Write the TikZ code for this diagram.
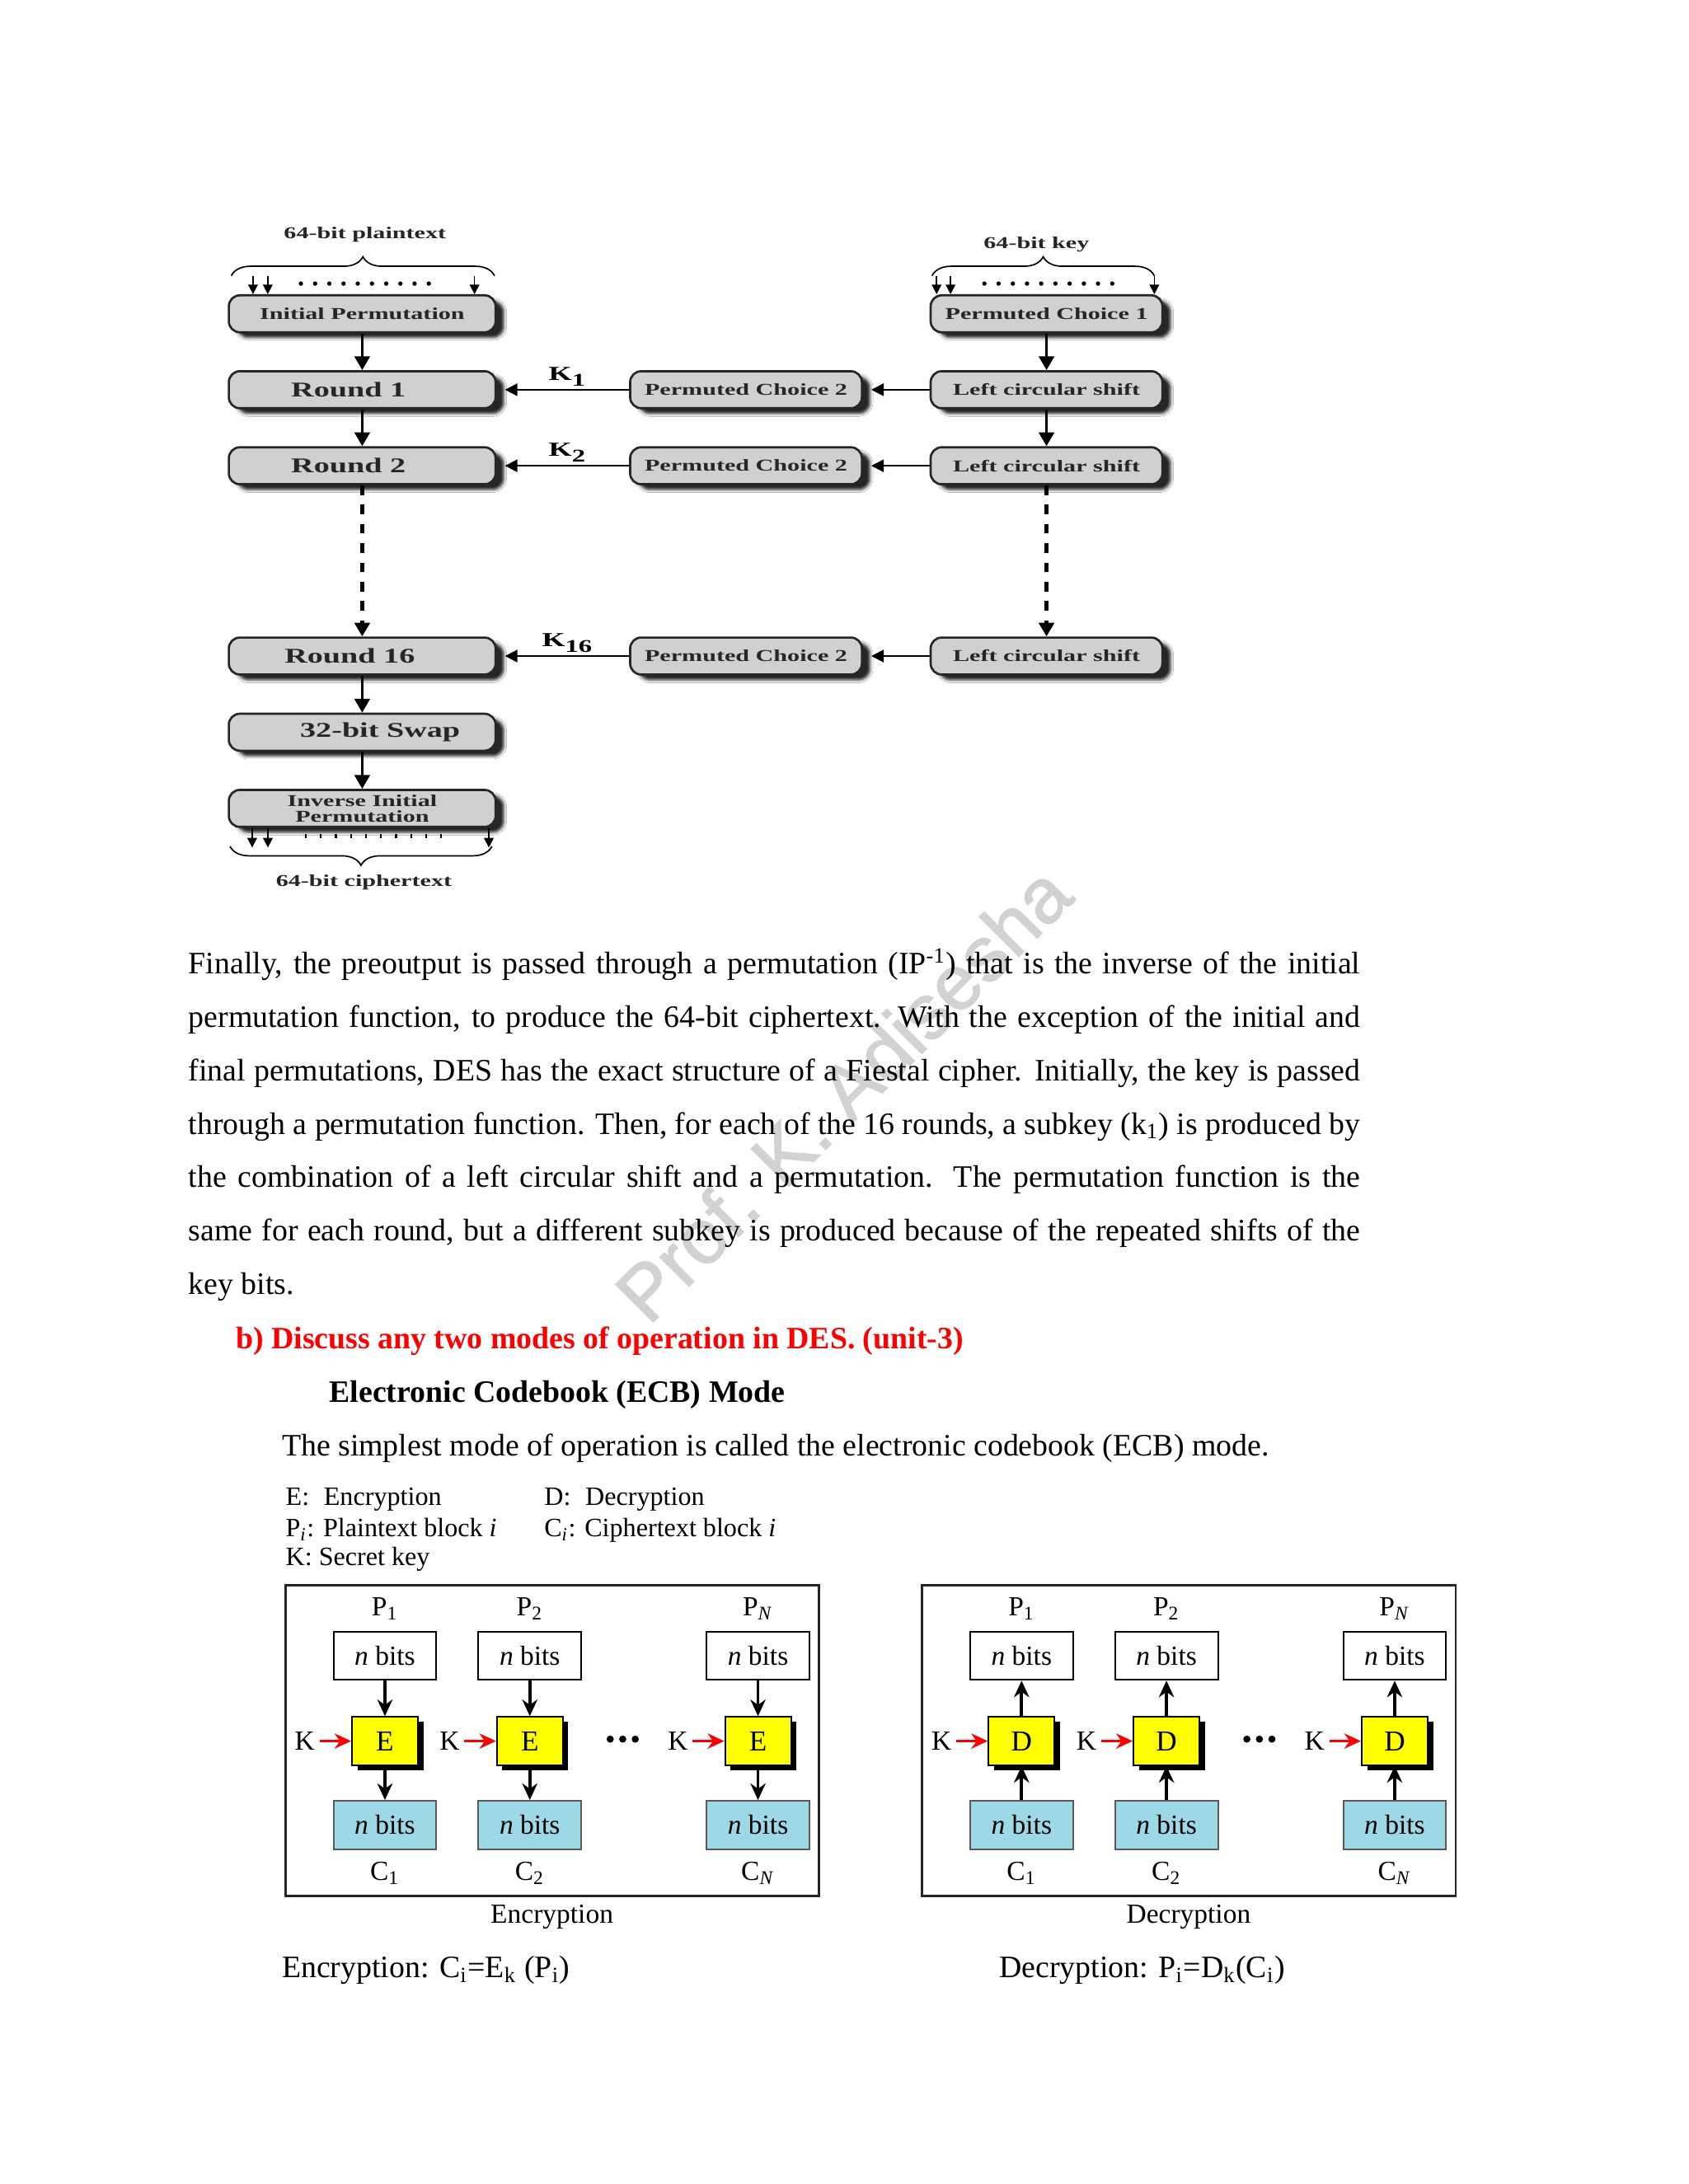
\documentclass[tikz,border=0pt]{standalone}
\usepackage{fontspec}
\setmainfont{Liberation Serif}
\newfontfamily\desfont[FakeStretch=1.5]{Liberation Serif}
\newfontfamily\markfont[FakeBold=1.6]{Liberation Sans}
\usetikzlibrary{arrows.meta,positioning,calc,shadows,shadows.blur,decorations.pathreplacing}
\definecolor{desgray}{HTML}{D0D0D0}
\definecolor{ecbyellow}{HTML}{FFFF00}
\definecolor{ecbblue}{HTML}{9DD8E6}
\definecolor{headred}{HTML}{FF0000}

\begin{document}
\begin{tikzpicture}[x=0.50495pt, y=-0.50495pt,
  desbox/.style={draw=black!85, line width=0.8pt, fill=desgray, rounded corners=4pt,
    minimum height=13.4pt, inner sep=0pt, text=black!85,
    font=\desfont\bfseries\fontsize{6}{5.8}\selectfont,
    blur shadow={shadow xshift=3pt, shadow yshift=-2pt, shadow blur radius=1pt, shadow opacity=85}},
  roundbox/.style={desbox, minimum width=96.7pt, font=\desfont\bfseries\fontsize{7.6}{8}\selectfont},
  stagebox/.style={desbox, minimum width=96.7pt},
  keybox/.style={desbox, minimum width=84pt},
  deslabel/.style={font=\desfont\bfseries\fontsize{6}{7}\selectfont, text=black!85, inner sep=0pt},
  klabel/.style={font=\desfont\bfseries\fontsize{7.2}{8}\selectfont, inner sep=1pt},
  flow/.style={-{Triangle[length=5pt,width=5.5pt]}, line width=1pt},
  skipflow/.style={flow, line width=1.3pt, dash pattern=on 3.5pt off 3.5pt},
  keyflow/.style={-{Triangle[length=4.5pt,width=4.5pt]}, line width=0.6pt},
  bitflow/.style={-{Triangle[length=3.5pt,width=3.5pt]}, line width=0.5pt},
  bitbrace/.style={decorate, decoration={brace, amplitude=6.9pt}, line width=0.5pt},
  plainbox/.style={draw=black, line width=0.6pt, fill=white, minimum width=37.3pt,
    minimum height=17.5pt, inner sep=0pt, font=\fontsize{10}{12}\selectfont},
  cipherbox/.style={plainbox, draw=black!65, fill=ecbblue},
  opbox/.style={draw=black, line width=0.6pt, fill=ecbyellow, minimum width=23.9pt,
    minimum height=17.5pt, inner sep=0pt, font=\fontsize{10.5}{12}\selectfont,
    drop shadow={shadow xshift=2pt, shadow yshift=-1.8pt, fill=black, opacity=1}},
  ecbtext/.style={font=\fontsize{10}{12}\selectfont, inner sep=1.5pt},
  ecbframe/.style={draw=black!85, line width=0.8pt},
  encarrow/.style={-{Stealth[length=6pt,width=5.5pt]}, line width=1.1pt},
  decarrow/.style={{Stealth[length=6pt,width=5.5pt]}-, line width=1.1pt},
  ktip/.style={-{Stealth[length=6pt,width=5.5pt]}, line width=1.1pt, headred},
  keytext/.style={anchor=base west, inner sep=0pt, font=\fontsize{9.6}{11}\selectfont},
  bodyline/.style={anchor=base west, inner sep=0pt, font=\fontsize{11.3}{13}\selectfont}]

\fill[white] (0,0) rectangle (1212,1568);
\useasboundingbox (0,0) rectangle (1212,1568);

% watermark
\node[font=\markfont\fontsize{28}{28}\selectfont, text=gray!35, rotate=45] (mark) at (605,785) {Prof. K. Adisesha};

% DES encryption column
\node[stagebox] (ip) at (260,225.3) {Initial Permutation};
\node[roundbox] (r1) at (260,279.8) {Round 1\hspace*{10pt}};
\node[roundbox] (r2) at (260,334.4) {Round 2\hspace*{10pt}};
\node[roundbox] (r16) at (260,471) {Round 16\hspace*{9pt}};
\node[roundbox] (swap) at (260,525.7) {\hspace*{13pt}32-bit Swap};
\node[stagebox, align=center] (iip) at (260,580.4) {Inverse Initial\\Permutation};

% key schedule
\node[keybox] (pc1) at (751.2,225.3) {Permuted Choice 1};
\node[keybox] (lcs1) at (751.2,279.8) {Left circular shift};
\node[keybox] (lcs2) at (751.2,334.4) {Left circular shift};
\node[keybox] (lcs16) at (751.2,471) {Left circular shift};
\node[keybox] (pcb1) at (535.5,279.8) {Permuted Choice 2};
\node[keybox] (pcb2) at (535.5,334.4) {Permuted Choice 2};
\node[keybox] (pcb16) at (535.5,471) {Permuted Choice 2};

\draw[flow] (ip) -- (r1);
\draw[flow] (r1) -- (r2);
\draw[skipflow] (r2) -- (r16);
\draw[flow] (r16) -- (swap);
\draw[flow] (swap) -- (iip);
\draw[flow] (pc1) -- (lcs1);
\draw[flow] (lcs1) -- (lcs2);
\draw[skipflow] (lcs2) -- (lcs16);

\foreach \n/\k in {1/1, 2/2, 16/16}{
  \draw[keyflow] (lcs\n.west) -- ([xshift=3pt]pcb\n.east);
  \draw[keyflow] (pcb\n.west) -- ([xshift=3pt]r\n.east)
    node[klabel, midway, above] {K\raisebox{-2.2pt}{\fontsize{6.5}{7}\selectfont\k}};
}

% 64-bit inputs and output
\node[deslabel] (ptxt) at (262,168.7) {64-bit plaintext};
\node[deslabel] (ktxt) at (744,175.6) {64-bit key};
\node[deslabel] (ctxt) at (261.2,633.8) {64-bit ciphertext};
\draw[bitbrace] (166,198) -- (355,198);
\draw[bitbrace] (669,198) -- (828.6,198);
\draw[bitbrace] (353.1,607.6) -- (165.1,607.6);
\foreach \x in {181.6,192.2,340.6}
  \draw[bitflow] (\x,198) -- (\x,0 |- ip.north);
\foreach \x in {672.3,682.3,828.6}
  \draw[bitflow] (\x,198) -- (\x,0 |- pc1.north);
\foreach \x in {181,192.3,350.9}
  \draw[bitflow] (\x,0 |- iip.south) -- (\x,608.5);
\foreach \i in {0,...,9}{
  \fill (216+\i*10.2,203.6) circle (0.8pt);
  \fill (706.6+\i*10.2,203.6) circle (0.8pt);
  \draw[line width=0.7pt] (219.5+\i*10.8,598.7) -- ++(0,3);
}

% text
\foreach \txt [count=\i from 0] in {
  {Finally, the preoutput is passed through a permutation (IP\textsuperscript{-1}) that is the inverse of the initial},
  {permutation function, to produce the 64-bit ciphertext. With the exception of the initial and},
  {final permutations, DES has the exact structure of a Fiestal cipher. Initially, the key is passed},
  {through a permutation function. Then, for each of the 16 rounds, a subkey (k\textsubscript{1}) is produced by},
  {the combination of a left circular shift and a permutation. The permutation function is the},
  {same for each round, but a different subkey is produced because of the repeated shifts of the}}
  \node[bodyline] (line\i) at (135,699.3+38.3*\i) {\makebox[424.7pt][s]{\txt}};
\node[bodyline] (line6) at (135,929.1) {key bits.};
\node[bodyline, font=\bfseries\fontsize{11.3}{13}\selectfont, text=headred] (ask) at (169,968.4)
  {b) Discuss any two modes of operation in DES. (unit-3)};
\node[bodyline, font=\bfseries\fontsize{11.3}{13}\selectfont] (ecbhead) at (236,1006.7)
  {Electronic Codebook (ECB) Mode};
\node[bodyline] (intro) at (202,1045)
  {The simplest mode of operation is called the electronic codebook (ECB) mode.};

% legend
\node[keytext] (legE) at (204.7,1080.8) {E:\hspace{0.55em}Encryption};
\node[keytext] (legD) at (390.3,1080.8) {D:\hspace{0.55em}Decryption};
\node[keytext] (legP) at (204.7,1103) {P\textsubscript{\textit{i}}: Plaintext block \textit{i}};
\node[keytext] (legC) at (390.3,1103) {C\textsubscript{\textit{i}}: Ciphertext block \textit{i}};
\node[keytext] (legK) at (204.7,1124) {K: Secret key};

% ECB panels
\foreach \pan/\dx/\opname/\panname in {enc/0/E/Encryption, dec/457/D/Decryption}{
  \draw[ecbframe] (205+\dx,1138) rectangle (588+\dx,1361);
  \foreach \col/\cx/\colsub in {1/276.3/1, 2/380.3/2, 3/544.1/\textit{N}}{
    \node[ecbtext] (\pan pl\col) at (\cx+\dx,1154.8) {P\textsubscript{\colsub}};
    \node[plainbox] (\pan p\col) at (\cx+\dx,1188.7) {\textit{n} bits};
    \node[opbox] (\pan o\col) at (\cx+\dx,1250) {\opname};
    \node[cipherbox] (\pan c\col) at (\cx+\dx,1310.2) {\textit{n} bits};
    \node[ecbtext] (\pan cl\col) at (\cx+\dx,1345) {C\textsubscript{\colsub}};
    \node[ecbtext] (\pan k\col) at (\cx+\dx-57.5,1250) {K};
    \draw[\pan arrow] (\pan p\col) -- (\pan o\col);
    \draw[\pan arrow] (\pan o\col) -- (\pan c\col);
    \draw[ktip] (\pan k\col) -- (\pan o\col);
  }
  \foreach \i in {0,1,2}
    \fill (438+\dx+\i*9,1248.6) circle (1.3pt);
  \node[ecbtext] (\pan cap) at (396.2+\dx,1376) {\panname};
}

\node[bodyline] (enceq) at (202,1420)
  {Encryption: C\textsubscript{i}=E\textsubscript{k} (P\textsubscript{i})};
\node[bodyline] (deceq) at (717,1420)
  {Decryption: P\textsubscript{i}=D\textsubscript{k}(C\textsubscript{i})};
\end{tikzpicture}
\end{document}
